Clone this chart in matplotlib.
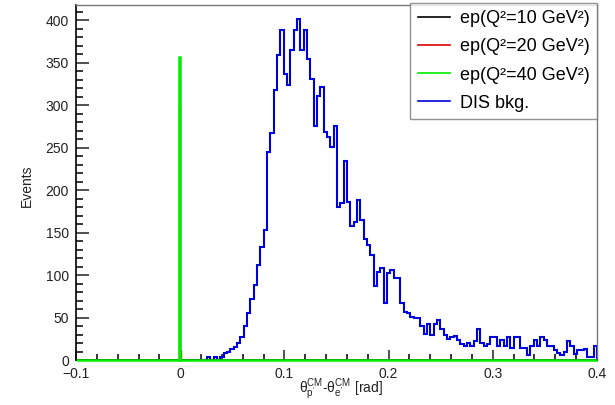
import numpy as np
import matplotlib
matplotlib.use('Agg')
import matplotlib.pyplot as plt
from matplotlib.lines import Line2D
from matplotlib.ticker import MultipleLocator, FuncFormatter

plt.rcParams['font.family'] = ['Liberation Sans', 'DejaVu Sans']
plt.rcParams['mathtext.fontset'] = 'custom'
plt.rcParams['mathtext.rm'] = 'Liberation Sans'
plt.rcParams['mathtext.it'] = 'Liberation Sans:italic'
plt.rcParams['mathtext.bf'] = 'Liberation Sans:bold'

# DIS background, bins of 0.0032 rad from 0 to 0.4
dis_edges = np.linspace(0.0, 0.4, 126)
dis_counts = [0, 0, 0, 0, 0, 0, 0, 0, 3, 0, 3, 0,
              4, 8, 10, 13, 15, 20, 27, 40, 55, 72, 88, 112,
              133, 153, 245, 267, 318, 359, 389, 337, 324, 365, 389, 401,
              365, 389, 354, 331, 276, 311, 322, 269, 263, 251, 275, 180,
              185, 234, 186, 158, 163, 188, 165, 142, 135, 124, 87, 104,
              108, 67, 103, 106, 97, 97, 67, 57, 55, 51, 49,
              50, 40, 31, 42, 29, 42, 47, 36, 29, 25, 27, 28, 24, 19, 16, 20,
              16, 22, 36, 20, 16, 19, 27, 27, 16, 24, 16, 27, 14, 27, 27, 14,
              14, 6, 17, 24, 17, 27, 24, 16, 16, 12, 8, 6, 9, 22, 17, 7,
              12, 12, 13, 4, 4, 17]

# elastic ep, bins of 0.001 rad from -0.1 to 0.4 (only non empty bins listed)
sig_edges = np.linspace(-0.1, 0.4, 501)
ep10_bins = [99]
ep10_counts = [330]
ep20_bins = [99, 100]
ep20_counts = [300, 12]
ep40_bins = [99]
ep40_counts = [357]

labels = ['ep(Q²=10 GeV²)', 'ep(Q²=20 GeV²)', 'ep(Q²=40 GeV²)', 'DIS bkg.']
colors = ['black', '#e00000', '#00ee00', '#0000dd']


def fill(bins, counts):
    h = np.zeros(len(sig_edges) - 1)
    h[bins] = counts
    return h


fig = plt.figure(figsize=(6.15, 4.05), dpi=100)
ax = fig.add_axes([76/615, 45/405, 521/615, 355/405])

ax.stairs(dis_counts, dis_edges, color=colors[3], lw=1.5, zorder=2)
ax.stairs(fill(ep10_bins, ep10_counts), sig_edges, color=colors[0], lw=0.8, zorder=3)
ax.stairs(fill(ep20_bins, ep20_counts), sig_edges, color=colors[1], lw=1.0, zorder=4)
ax.stairs(fill(ep40_bins, ep40_counts), sig_edges, color=colors[2], lw=1.8,
          zorder=5, clip_on=False)

ax.set_xlim(-0.1, 0.4)
ax.set_ylim(0, 418)

ax.xaxis.set_major_locator(MultipleLocator(0.1))
ax.xaxis.set_minor_locator(MultipleLocator(0.02))
ax.yaxis.set_major_locator(MultipleLocator(50))
ax.yaxis.set_minor_locator(MultipleLocator(10))
ax.xaxis.set_major_formatter(FuncFormatter(
    lambda v, p: '0' if abs(v) < 1e-9 else ('%.1f' % v).replace('-', '\u2212')))
ax.tick_params(axis='x', which='major', direction='in', length=7.5, width=1.1, labelsize=10, pad=5, colors='#222222')
ax.tick_params(axis='x', which='minor', direction='in', length=4, width=1.1)
ax.tick_params(axis='y', which='major', direction='in', length=9, width=1.1, labelsize=10, pad=5, colors='#222222')
ax.tick_params(axis='y', which='minor', direction='in', length=5, width=1.1)

for s in ['left', 'bottom']:
    ax.spines[s].set_linewidth(1.2)
for s in ['top', 'right']:
    ax.spines[s].set_color('#777777')
    ax.spines[s].set_linewidth(1.0)

ax.set_ylabel('Events', fontsize=10, color='#222222')
ax.yaxis.set_label_coords(-0.08, 0.49)
ax.text(0.509, -0.082,
        r'$\mathrm{\theta}^{\mathrm{CM}}_{\mathrm{p^{\prime}}}$-$\mathrm{\theta}^{\mathrm{CM}}_{\mathrm{e^{\prime}}}$ [rad]',
        transform=ax.transAxes, ha='center', va='center', fontsize=10, color='#222222')

handles = [Line2D([], [], color=c, lw=1.2) for c in colors]
leg = ax.legend(handles, labels, loc='upper right', bbox_to_anchor=(597/615, 1 - 3/405),
                bbox_transform=fig.transFigure, fontsize=13, frameon=True, fancybox=False,
                handlelength=1.8, handletextpad=0.55, labelspacing=0.62, borderpad=0.4,
                borderaxespad=0)
leg.get_frame().set_edgecolor('#777777')
leg.get_frame().set_linewidth(1.0)

fig.savefig('out.png', dpi=100)
